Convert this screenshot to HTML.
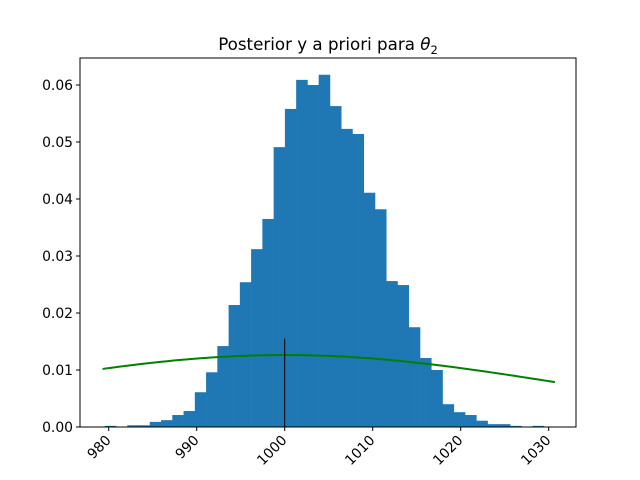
<!DOCTYPE html>
<html><head><meta charset="utf-8"><style>
body{margin:0;background:#fff;}
svg{display:block;font-family:"DejaVu Sans","Liberation Sans",sans-serif;}
</style></head><body>
<svg id="chart" width="640" height="480">
<rect x="0" y="0" width="640" height="480" fill="#fff"/>
<g id="plot"></g>
<text x="328" y="50" font-size="16.7" text-anchor="middle">Posterior y a priori para <tspan font-style="italic">θ</tspan><tspan font-size="11.5" dy="4">2</tspan></text>
</svg>
<script>
const binStart = 979.55;
const binWidth = 1.2795;
const binHeights = [0.0002,0,0.0003,0.0003,0.0009,0.0012,0.0021,0.0028,0.0061,0.0096,0.0142,0.0214,0.0254,0.0312,0.0365,0.0491,0.0558,0.0609,0.0600,0.0618,0.0563,0.0523,0.0514,0.0411,0.0382,0.0256,0.0249,0.0175,0.0121,0.0100,0.0040,0.0026,0.0021,0.0011,0.0005,0.0005,0.0002,0,0.0002];
const xTicks = [980,990,1000,1010,1020,1030];
const yTicks = [0,0.01,0.02,0.03,0.04,0.05,0.06];
const yTickLabels = ["0.00","0.01","0.02","0.03","0.04","0.05","0.06"];
const priorMean = 1000;
const priorSd = 31.6;
const priorRange = [979.3, 1030.7];
const markerX = 1000;
const markerTop = 0.0155;

const L=80,R=576,T=58,B=427;
const xs=v=>108.7+(v-980)*8.8;
const ys=v=>B-v*5700;
const ns="http://www.w3.org/2000/svg";
const g=document.getElementById('plot');
function mk(t,a){const e=document.createElementNS(ns,t);for(const k in a)e.setAttribute(k,a[k]);g.appendChild(e);return e;}

binHeights.forEach((h,i)=>{
  if(h<=0)return;
  const x0=xs(binStart+i*binWidth),x1=xs(binStart+(i+1)*binWidth);
  const r=mk('rect',{x:x0,y:ys(h),width:x1-x0+0.3,height:B-ys(h),fill:'#1f77b4'});
  
  
});
let pts=[];
for(let i=0;i<=100;i++){const v=priorRange[0]+(priorRange[1]-priorRange[0])*i/100;
  const d=Math.exp(-0.5*((v-priorMean)/priorSd)**2)/(priorSd*Math.sqrt(2*Math.PI));
  pts.push(xs(v).toFixed(2)+','+ys(d).toFixed(2));}
const pl=mk('polyline',{points:pts.join(' '),fill:'none',stroke:'#008000','stroke-width':2});


const vl=mk('line',{x1:xs(markerX),x2:xs(markerX),y1:B,y2:ys(markerTop),stroke:'#000','stroke-width':1});


const fr=mk('rect',{x:L,y:T,width:R-L,height:B-T,fill:'none',stroke:'#000','stroke-width':1});


xTicks.forEach(t=>{
  const x=xs(t);
  const tk=mk('line',{x1:x,x2:x,y1:B,y2:B+4,stroke:'#000'});
  
  
  const tx=mk('text',{x:x+3,y:B+14,'font-size':13.9,'text-anchor':'end',transform:`rotate(-45 ${x+3} ${B+14})`});
  tx.textContent=t;
  
  
});
yTicks.forEach((t,i)=>{
  const y=ys(t);
  const tk=mk('line',{x1:L-4,x2:L,y1:y,y2:y,stroke:'#000'});
  
  
  const tx=mk('text',{x:L-7,y:y+5,'font-size':13.9,'text-anchor':'end'});
  tx.textContent=yTickLabels[i];
  
  
});
const xl=mk('text',{x:326,y:492,'font-size':14,'text-anchor':'middle','font-style':'italic'});
xl.textContent='θ';


</script>
</body></html>
